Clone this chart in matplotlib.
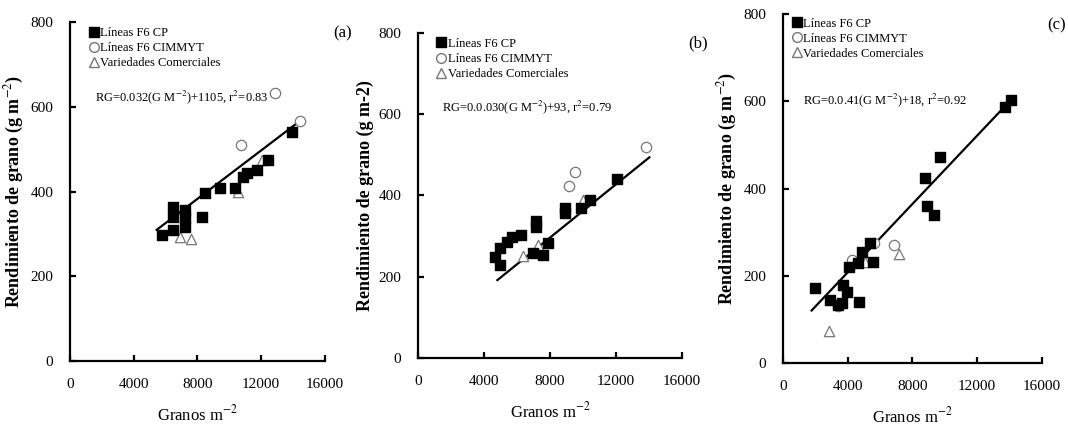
import matplotlib.pyplot as plt
from matplotlib.lines import Line2D

plt.rcParams['font.family'] = ['Liberation Serif', 'DejaVu Serif']
plt.rcParams['mathtext.fontset'] = 'stix'

# Panel (a)
a_cp_x = [5750, 6480, 6480, 6480, 7220, 7220, 7220, 8260, 8470, 9410, 10350, 10880, 11090, 11710, 12440, 13910]
a_cp_y = [297, 309, 341, 364, 356, 337, 317, 341, 397, 408, 408, 435, 443, 450, 474, 541]
a_cim_x = [10730, 12860, 14430]
a_cim_y = [510, 633, 566]
a_var_x = [6900, 7590, 10560, 12020]
a_var_y = [292, 287, 400, 474]
a_fit = (0.0286, 154, 5440, 14540)

# Panel (b)
b_cp_x = [4670, 4970, 4970, 5370, 5680, 6240, 7150, 7150, 6990, 7600, 7900, 8910, 8910, 9860, 10420, 12040]
b_cp_y = [249, 229, 270, 286, 297, 303, 336, 323, 259, 254, 284, 368, 356, 368, 389, 440]
b_cim_x = [9170, 9520, 13820]
b_cim_y = [423, 459, 520]
b_var_x = [6380, 7290, 10020]
b_var_y = [251, 278, 389]
b_fit = (0.0328, 34, 4810, 14020)

# Panel (c)
c_cp_x = [1980, 2900, 3420, 3630, 3730, 3930, 4100, 4650, 4720, 4900, 5380, 5540, 8770, 8880, 9330, 9700, 13710, 14090]
c_cp_y = [171, 144, 133, 137, 179, 163, 219, 230, 141, 255, 274, 231, 423, 360, 339, 472, 588, 604]
c_cim_x = [3400, 4240, 5620, 6860]
c_cim_y = [130, 236, 276, 270]
c_var_x = [2860, 5070, 7170]
c_var_y = [74, 232, 251]
c_fit = (0.0392, 51, 1770, 13510)

x_ticks = [0, 4000, 8000, 12000, 16000]
y_ticks = [0, 200, 400, 600, 800]
legend_labels = ['Líneas F6 CP', 'Líneas F6 CIMMYT', 'Variedades Comerciales']

fig = plt.figure(figsize=(10.68, 4.29), dpi=100)

panels = [
    dict(rect=[0.0655, 0.1585, 0.2388, 0.790], cp=(a_cp_x, a_cp_y), cim=(a_cim_x, a_cim_y),
         var=(a_var_x, a_var_y), fit=a_fit, tag='(a)', tag_pos=(1.07, 0.968),
         ylabel='Rendimiento de grano (g m$^{-2}$)',
         eq='RG=0.032(G M$^{-2}$)+1105, r$^{2}$=0.83', eq_pos=(0.098, 0.779),
         leg_pos=(0.075, 0.985)),
    dict(rect=[0.3914, 0.1655, 0.2472, 0.7576], cp=(b_cp_x, b_cp_y), cim=(b_cim_x, b_cim_y),
         var=(b_var_x, b_var_y), fit=b_fit, tag='(b)', tag_pos=(1.06, 0.969),
         ylabel='Rendimiento de grano (g m-2)',
         eq='RG=0.0.030(G M$^{-2}$)+93, r$^{2}$=0.79', eq_pos=(0.091, 0.772),
         leg_pos=(0.07, 0.985)),
    dict(rect=[0.7331, 0.1538, 0.2425, 0.8135], cp=(c_cp_x, c_cp_y), cim=(c_cim_x, c_cim_y),
         var=(c_var_x, c_var_y), fit=c_fit, tag='(c)', tag_pos=(1.058, 0.968),
         ylabel='Rendimiento de grano (g m$^{-2}$)',
         eq='RG=0.0.41(G M$^{-2}$)+18, r$^{2}$=0.92', eq_pos=(0.077, 0.754),
         leg_pos=(0.035, 0.99)),
]

for p in panels:
    ax = fig.add_axes(p['rect'])
    slope, icpt, x0, x1 = p['fit']
    ax.plot([x0, x1], [slope * x0 + icpt, slope * x1 + icpt], color='black', lw=1.6, zorder=2)
    ax.scatter(*p['var'], marker='^', s=55, facecolors='white', edgecolors='#777777', linewidths=0.9, zorder=3)
    ax.scatter(*p['cim'], marker='o', s=55, facecolors='white', edgecolors='#777777', linewidths=0.9, zorder=3)
    ax.scatter(*p['cp'], marker='s', s=55, color='black', zorder=4)

    ax.set_xlim(0, 16000)
    ax.set_ylim(0, 800)
    ax.set_xticks(x_ticks)
    ax.set_yticks(y_ticks)
    ax.spines['top'].set_visible(False)
    ax.spines['right'].set_visible(False)
    for s in ['left', 'bottom']:
        ax.spines[s].set_linewidth(1.6)
    ax.tick_params(direction='in', length=4, width=1.6, labelsize=11, pad=12)
    ax.set_xlabel('Granos m$^{-2}$', fontsize=12, labelpad=10)
    ax.set_ylabel(p['ylabel'], fontsize=13, fontweight='bold', labelpad=3)

    handles = [
        Line2D([], [], marker='s', ls='none', color='black', markersize=7),
        Line2D([], [], marker='o', ls='none', markerfacecolor='white', markeredgecolor='#777777', markersize=7),
        Line2D([], [], marker='^', ls='none', markerfacecolor='white', markeredgecolor='#777777', markersize=7),
    ]
    ax.legend(handles, legend_labels, loc='upper left', bbox_to_anchor=p['leg_pos'], frameon=False,
              fontsize=9, handlelength=0.8, handletextpad=0.1, labelspacing=0.25, borderpad=0,
              borderaxespad=0)
    ax.text(*p['eq_pos'], p['eq'], transform=ax.transAxes, fontsize=9, va='center', ha='left')
    ax.text(*p['tag_pos'], p['tag'], transform=ax.transAxes, fontsize=12, va='center', ha='center')

fig.savefig('out.png', dpi=100)
